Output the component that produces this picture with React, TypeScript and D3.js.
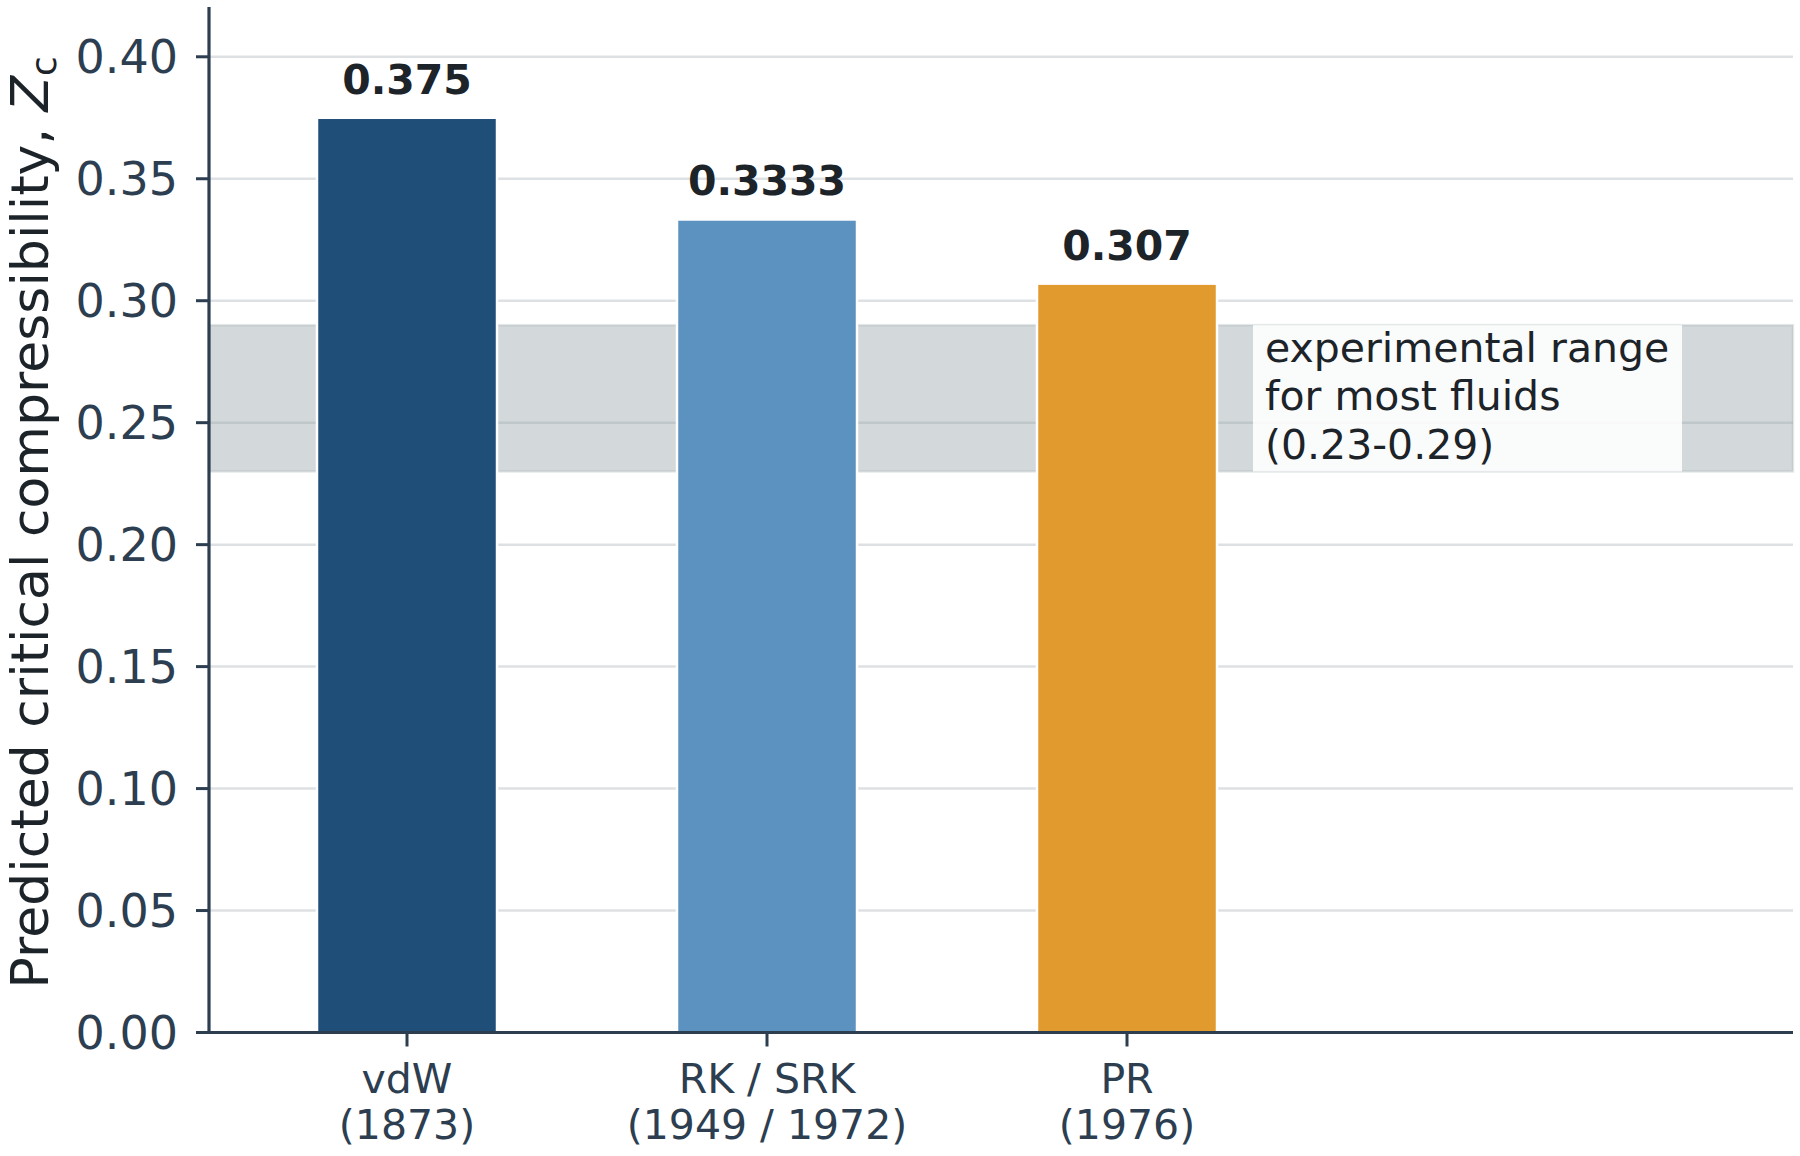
import React from "react";
import * as d3 from "d3";

const categories = ["vdW", "RK / SRK", "PR"];
const years = ["(1873)", "(1949 / 1972)", "(1976)"];
const values = [0.375, 0.3333, 0.307];
const valueLabels = ["0.375", "0.3333", "0.307"];
const barColors = ["#1f4e79", "#5b92c0", "#e09a2e"];
const yTicks = [0, 0.05, 0.1, 0.15, 0.2, 0.25, 0.3, 0.35, 0.4];
const bandRange = [0.23, 0.29];
const bandText = ["experimental range", "for most fluids", "(0.23-0.29)"];

const W = 1800;
const H = 1156;
const left = 209;
const right = 1793;
const top = 8;
const bottom = 1032.5;

const FONT = "'DejaVu Sans', sans-serif";
const AXIS = "#2c3e50";
const DARK = "#1c2329";

export default function App() {
  const x = d3.scaleLinear().domain([-0.55, 3.85]).range([left, right]);
  const y = d3.scaleLinear().domain([0, 0.42]).range([bottom, top]);
  const unit = x(1) - x(0);
  const bw = unit * 0.5;

  const bandTop = y(bandRange[1]);
  const bandBot = y(bandRange[0]);

  return (
    <svg
      width={W}
      height={H}
      viewBox={`0 0 ${W} ${H}`}
      style={{ position: "absolute", left: 0, top: 0, background: "#fff" }}
      fontFamily={FONT}
    >
      <rect x={0} y={0} width={W} height={H} fill="#ffffff" />
      {/* gridlines */}
      {yTicks
        .filter((t) => t > 0)
        .map((t) => (
          <line
            key={"g" + t}
            x1={left}
            x2={right}
            y1={y(t)}
            y2={y(t)}
            stroke="#bdc3c7"
            strokeOpacity={0.5}
            strokeWidth={2.5}
          />
        ))}
      {/* band */}
      <rect
        x={left}
        y={bandTop}
        width={right - left}
        height={bandBot - bandTop}
        fill="#95a5a6"
        fillOpacity={0.42}
        stroke="#95a5a6"
        strokeOpacity={0.25}
        strokeWidth={2.5}
      />
      {/* bars */}
      {values.map((v, i) => (
        <rect
          key={"b" + i}
          x={x(i) - bw / 2}
          y={y(v)}
          width={bw}
          height={y(0) - y(v)}
          fill={barColors[i]}
          stroke="#ffffff"
          strokeWidth={2.5}
        />
      ))}
      {/* value labels */}
      {values.map((v, i) => (
        <text
          key={"v" + i}
          x={x(i)}
          y={y(v) - 24}
          textAnchor="middle"
          fontSize={41}
          fontWeight="bold"
          fill={DARK}
        >
          {valueLabels[i]}
        </text>
      ))}
      {/* annotation box */}
      <rect
        x={1253}
        y={bandTop}
        width={1682 - 1253}
        height={bandBot - bandTop}
        fill="#ffffff"
        fillOpacity={0.88}
      />
      {bandText.map((t, i) => (
        <text key={"a" + i} x={1265} y={bandTop + 37 + i * 48.3} fontSize={41} fill={DARK}>
          {t}
        </text>
      ))}
      {/* y axis */}
      <line x1={left} x2={left} y1={top - 1} y2={bottom + 1.5} stroke={AXIS} strokeWidth={3.2} />
      {yTicks.map((t) => (
        <g key={"yt" + t}>
          <line x1={left - 13} x2={left} y1={y(t)} y2={y(t)} stroke={AXIS} strokeWidth={3} />
          <text
            x={178}
            y={y(t)}
            dy="0.36em"
            textAnchor="end"
            fontSize={46}
            fill={AXIS}
          >
            {t.toFixed(2)}
          </text>
        </g>
      ))}
      {/* x axis */}
      <line x1={left - 1.5} x2={right} y1={bottom} y2={bottom} stroke={AXIS} strokeWidth={3.2} />
      {categories.map((c, i) => (
        <g key={"xt" + i}>
          <line x1={x(i)} x2={x(i)} y1={bottom} y2={bottom + 14} stroke={AXIS} strokeWidth={3} />
          <text x={x(i)} y={1093} textAnchor="middle" fontSize={41} fill={AXIS}>
            {c}
          </text>
          <text x={x(i)} y={1139} textAnchor="middle" fontSize={41} fill={AXIS}>
            {years[i]}
          </text>
        </g>
      ))}
      {/* y label */}
      <text
        transform={`translate(48, ${(top + bottom) / 2 + 2}) rotate(-90)`}
        textAnchor="middle"
        fontSize={52}
        fill={DARK}
      >
        <tspan>Predicted critical compressibility, </tspan>
        <tspan fontStyle="italic">Z</tspan>
        <tspan fontSize={36} dy={8}>
          c
        </tspan>
      </text>
    </svg>
  );
}
